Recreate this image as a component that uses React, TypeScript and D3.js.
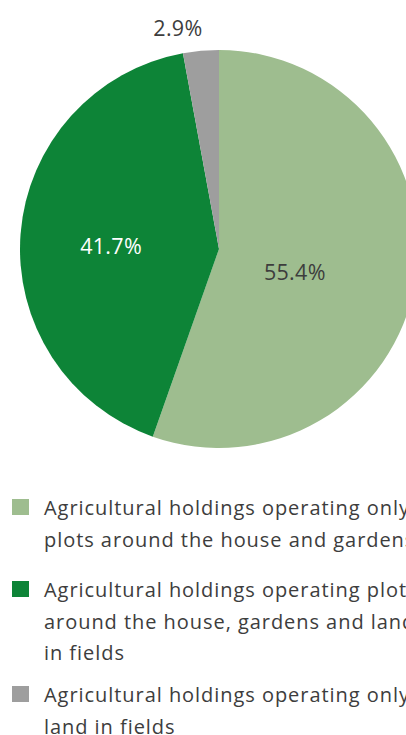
import React from "react";
import * as d3 from "d3";

const categories = [
  "Agricultural holdings operating only plots around the house and gardens",
  "Agricultural holdings operating plots around the house, gardens and land in fields",
  "Agricultural holdings operating only land in fields",
];
const values = [55.4, 41.7, 2.9];
const valueLabels = ["55.4%", "41.7%", "2.9%"];
const legendLines = [
  ["Agricultural holdings operating only", "plots around the house and gardens"],
  ["Agricultural holdings operating plots", "around the house, gardens and land", "in fields"],
  ["Agricultural holdings operating only", "land in fields"],
];
const colors = ["#9ebd8f", "#0d8437", "#9e9e9e"];
const labelColors = ["#3d3d3d", "#ffffff", "#3d3d3d"];

// label placement (radius, angle tweak in degrees)
const labelRadius = [79, 108, 225];
const labelAngleAdj = [6.5, -2.4, -5.3];

const W = 406;
const H = 735;
const cx = 219;
const cy = 249;
const R = 199;

export default function App() {
  const pie = d3.pie<number>().sort(null).value((d) => d)(values);
  const arc = d3.arc<d3.PieArcDatum<number>>().innerRadius(0).outerRadius(R);
  const font = "'Open Sans', Lato, sans-serif";
  const legendTop = [515, 597, 702];
  const lineH = 31.5;
  return (
    <svg
      width={W}
      height={H}
      style={{ position: "absolute", left: 0, top: 0, display: "block" }}
      fontFamily={font}
    >
      <rect width={W} height={H} fill="#ffffff" />
      <g transform={`translate(${cx},${cy})`}>
        {pie.map((p, i) => (
          <path key={i} d={arc(p) || ""} fill={colors[i]} />
        ))}
        {pie.map((p, i) => {
          const a = (p.startAngle + p.endAngle) / 2 + (labelAngleAdj[i] * Math.PI) / 180;
          const x = Math.sin(a) * labelRadius[i];
          const y = -Math.cos(a) * labelRadius[i];
          return (
            <text
              key={i}
              x={x}
              y={y}
              textAnchor="middle"
              dominantBaseline="central"
              fontSize={21.5}
              letterSpacing={0.3}
              fill={labelColors[i]}
            >
              {valueLabels[i]}
            </text>
          );
        })}
      </g>
      {legendLines.map((lines, i) => (
        <g key={i}>
          <title>{categories[i]}</title>
          <rect x={12} y={legendTop[i] - 16} width={17} height={16} fill={colors[i]} />
          {lines.map((ln, j) => (
            <text
              key={j}
              x={44}
              y={legendTop[i] + j * lineH}
              fontSize={20}
              letterSpacing={0.95}
              fill="#3d3d3d"
            >
              {ln}
            </text>
          ))}
        </g>
      ))}
    </svg>
  );
}
